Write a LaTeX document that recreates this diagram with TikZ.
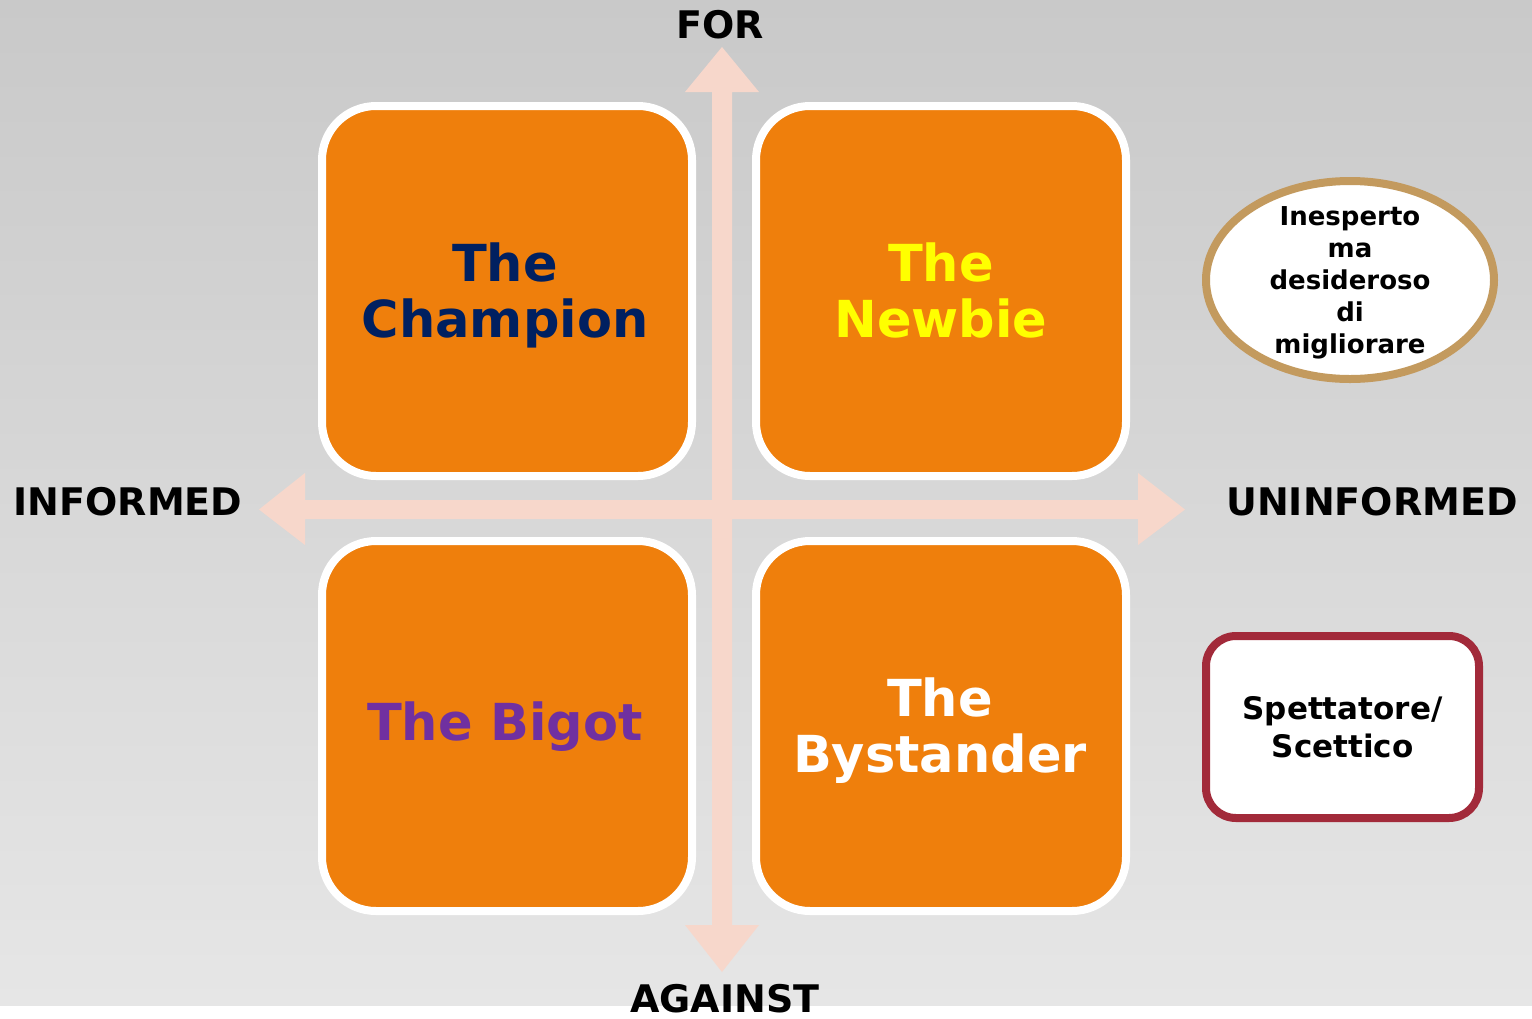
\documentclass[tikz,border=0pt]{standalone}
\usepackage{fontspec}
\setmainfont{DejaVu Sans}
\usetikzlibrary{shapes.geometric}
\definecolor{bgtop}{HTML}{C9C9C9}
\definecolor{bgbot}{HTML}{E6E6E6}
\definecolor{axiscol}{HTML}{F7D7CB}
\definecolor{quadorange}{HTML}{EF7F0C}
\definecolor{navy}{HTML}{002060}
\definecolor{purp}{HTML}{7030A0}
\definecolor{yell}{HTML}{FFFF00}
\definecolor{tan}{HTML}{C39A5E}
\definecolor{wine}{HTML}{A22A3A}
\begin{document}
\begin{tikzpicture}[x=1pt,y=-1pt,
  quad/.style={draw=white, line width=8pt, fill=quadorange, rounded corners=54pt,
    minimum width=370pt, minimum height=370pt, inner sep=0pt, align=center,
    font=\fontsize{51}{56}\selectfont\bfseries},
  axislabel/.style={font=\fontsize{38}{44}\selectfont\bfseries, inner sep=0pt, text=black},
  axisfill/.style={fill=axiscol, draw=none}]
\useasboundingbox (0,0) rectangle (1532,1018);
\shade[top color=bgtop, bottom color=bgbot] (0,0) rectangle (1532,1006);
\fill[white] (0,1006) rectangle (1532,1018);

% axes
\coordinate (vtop) at (722,47);
\coordinate (vbot) at (722,972);
\coordinate (hleft) at (259,509.5);
\coordinate (hright) at (1185,509.5);
\fill[axisfill] (vtop) -- (759,92) -- (732,92) -- (732,925) -- (759,925) -- (vbot)
  -- (685,925) -- (712,925) -- (712,92) -- (685,92) -- cycle;
\fill[axisfill] (hleft) -- (305,473) -- (305,500) -- (1138,500) -- (1138,473) -- (hright)
  -- (1138,545) -- (1138,519) -- (305,519) -- (305,545) -- cycle;

% quadrants
\node[quad] (champ) at (507,291) {};
\node[quad] (newb) at (941,291) {};
\node[quad] (bigot) at (507,726) {};
\node[quad] (bystand) at (941,726) {};
\node[quad, draw=none, fill=none, text=navy] (champT) at (505,295) {The\\Champion};
\node[quad, draw=none, fill=none, text=yell] (newbT) at (941,290) {The\\Newbie};
\node[quad, draw=none, fill=none, text=purp] (bigotT) at (505,727) {The Bigot};
\node[quad, draw=none, fill=none, text=white] (bystT) at (940,731) {The\\Bystander};

% axis labels
\node[axislabel] (for) at (720,25) {FOR};
\node[axislabel] (against) at (725,999) {AGAINST};
\node[axislabel] (inf) at (128,502) {INFORMED};
\node[axislabel] (uninf) at (1372,502) {UNINFORMED};

% side notes
\node[ellipse, draw=tan, fill=white, line width=8pt, minimum width=288pt,
  minimum height=198pt, inner sep=0pt] (ell) at (1350,280) {};
\node[align=center, font=\fontsize{26}{32}\selectfont\bfseries, inner sep=0pt] (ellT)
  at (1350,283) {Inesperto\\ma\\desideroso\\di\\migliorare};
\node[draw=wine, fill=white, line width=8pt, rounded corners=30pt, minimum width=273pt,
  minimum height=182pt, inner sep=0pt] (spect) at (1342.5,727) {};
\node[align=center, font=\fontsize{31}{38}\selectfont\bfseries, inner sep=0pt] (spectT)
  at (1342.5,727) {Spettatore/\\Scettico};
\end{tikzpicture}
\end{document}
